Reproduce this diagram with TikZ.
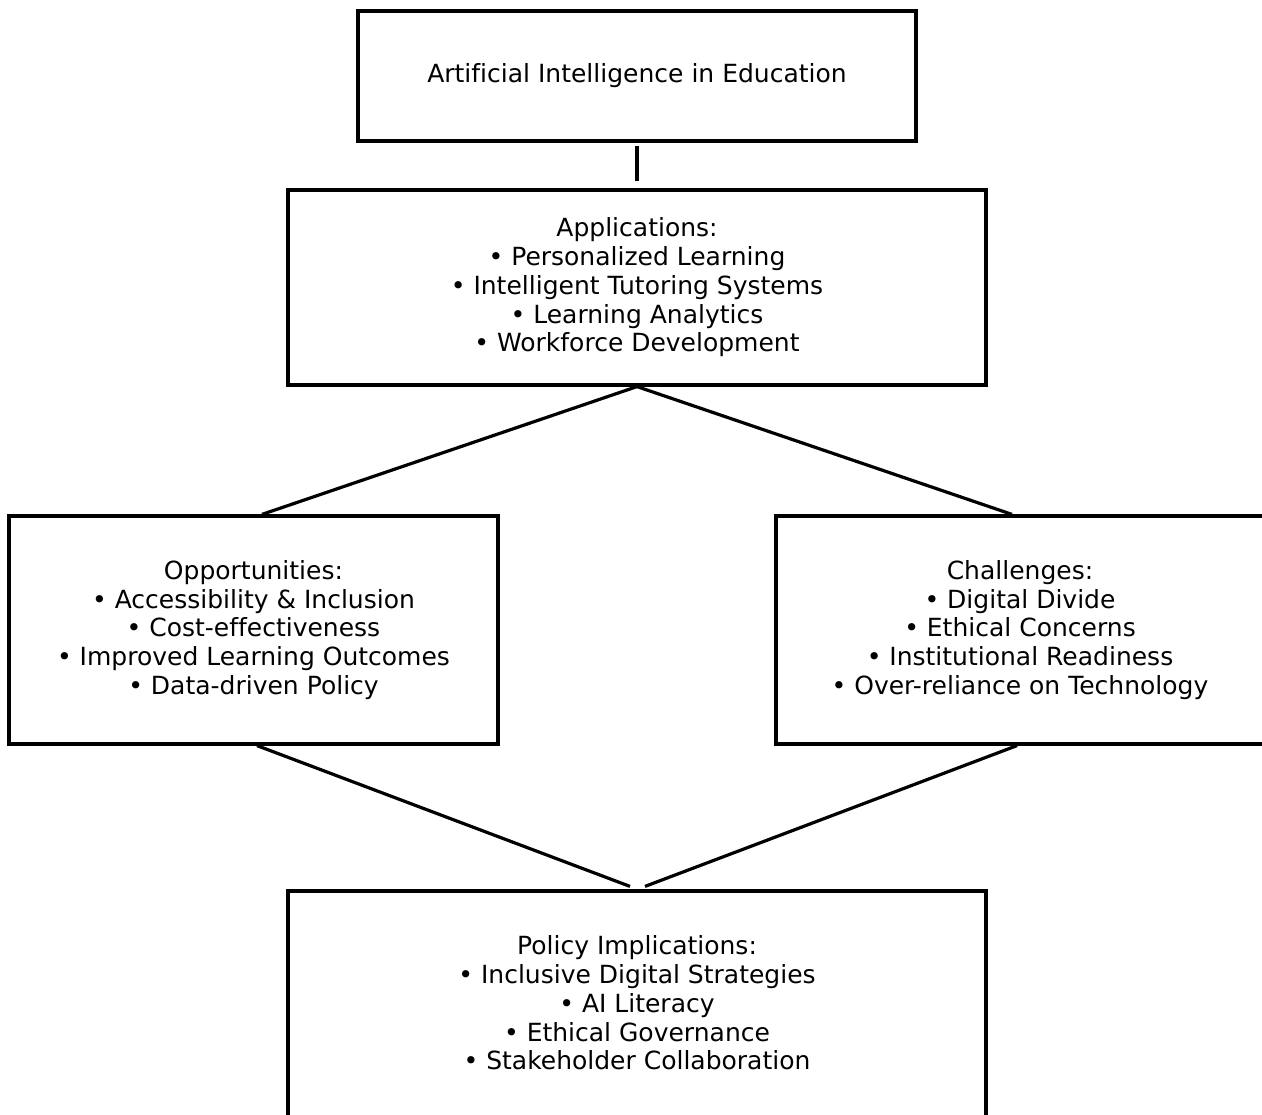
\documentclass[tikz,border=0pt]{standalone}
\usepackage{fontspec}
\setmainfont{DejaVu Sans}[Ligatures={NoCommon}]
\begin{document}
\begin{tikzpicture}[x=1pt,y=-1pt,
  txt/.style={align=center,inner sep=0pt,font=\fontsize{25}{28.7}\selectfont},
  box/.style={draw=black,line width=3.2pt,rectangle,inner sep=0pt,txt},
  conn/.style={draw=black,line width=3.2pt}]
\useasboundingbox (0,0) rectangle (1262,1115);
\node[box,minimum width=558pt,minimum height=130pt] (top) at (637,76) {Artificial Intelligence in Education};
\node[box,minimum width=698pt,minimum height=195pt] (app) at (637,287.5) {Applications:\\• Personalized Learning\\• Intelligent Tutoring Systems\\• Learning Analytics\\• Workforce Development};
\node[box,minimum width=489pt,minimum height=228pt] (opp) at (253.5,630) {Opportunities:\\• Accessibility \& Inclusion\\• Cost-effectiveness\\• Improved Learning Outcomes\\• Data-driven Policy};
\node[box,minimum width=488pt,minimum height=228pt] (chal) at (1020,630) {Challenges:\\• Digital Divide\\• Ethical Concerns\\• Institutional Readiness\\• Over-reliance on Technology};
\node[box,minimum width=698pt,minimum height=240pt,
  label={[txt,yshift=8pt]center:{Policy Implications:\\• Inclusive Digital Strategies\\• AI Literacy\\• Ethical Governance\\• Stakeholder Collaboration}}] (pol) at (637,1011) {};
\draw[conn,shorten <=3pt,shorten >=7pt] (top.south) -- (app.north);
\draw[conn] (app.south) -- ([xshift=8.5pt]opp.north);
\draw[conn] (app.south) -- ([xshift=-8pt]chal.north);
\draw[conn] ([xshift=3.5pt]opp.south) -- ([xshift=-7pt,yshift=3pt]pol.north);
\draw[conn] ([xshift=-3pt]chal.south) -- ([xshift=8pt,yshift=3pt]pol.north);
\end{tikzpicture}
\end{document}
